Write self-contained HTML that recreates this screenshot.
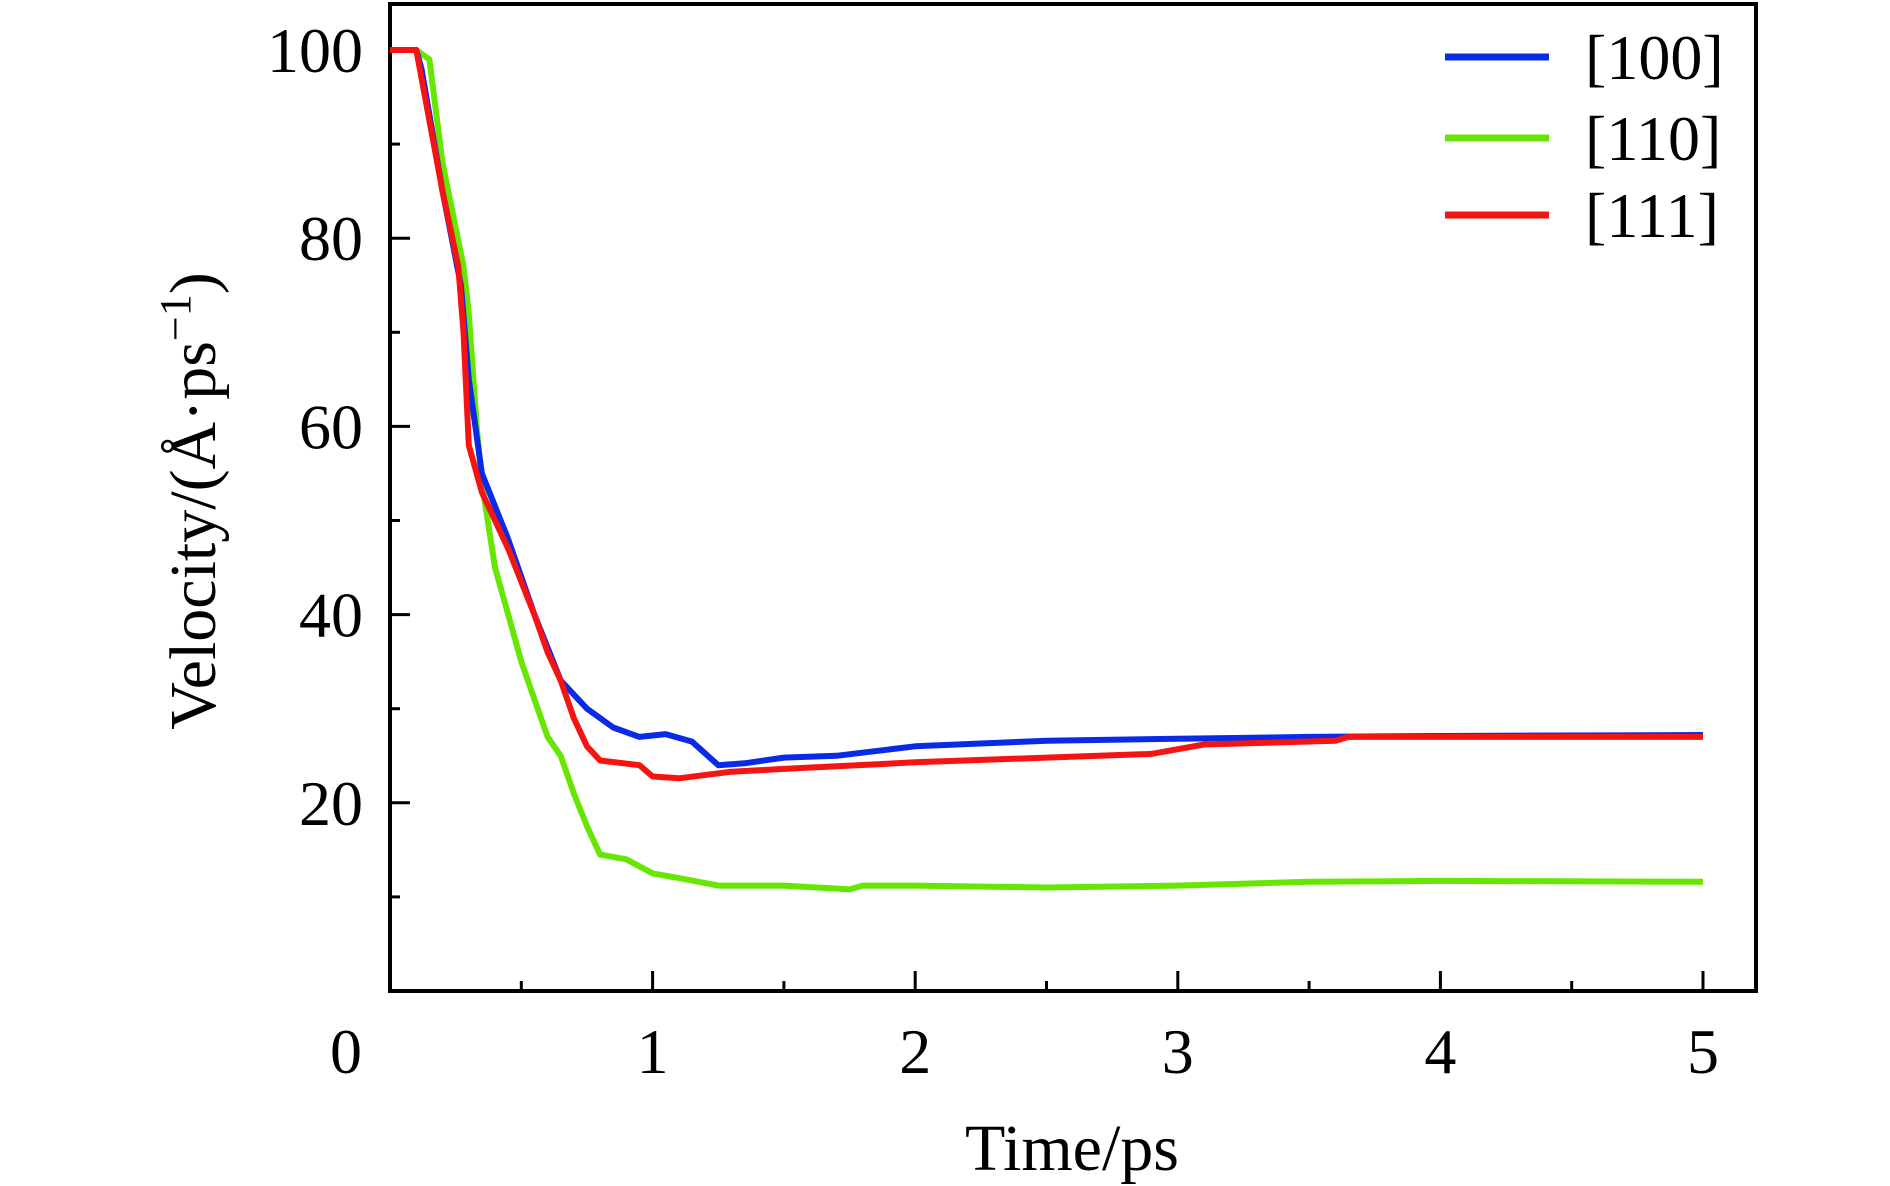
<!DOCTYPE html>
<html><head><meta charset="utf-8"><style>
html,body{margin:0;padding:0;background:#fff}
svg{display:block}
text{font-family:"Liberation Serif",serif;fill:#000}
</style></head><body>
<svg id="chart" width="1890" height="1186" viewBox="0 0 1890 1186" xmlns="http://www.w3.org/2000/svg">
<g id="marks"></g>
</svg>
<script>
const xTicks=[0,1,2,3,4,5];
const yTicks=[20,40,60,80,100];
const t100=[0,0.1,0.12,0.2,0.27,0.3,0.35,0.45,0.55,0.65,0.75,0.85,0.95,1.05,1.15,1.25,1.35,1.5,1.7,2.0,2.5,3.0,3.5,4.0,5.0];
const v100=[100,100,98,85,75,65,55,48,40,33,30,28,27,27.3,26.5,24,24.2,24.8,25,26,26.6,26.8,27,27.1,27.2];
const t111=[0,0.1,0.2,0.26,0.28,0.3,0.35,0.45,0.55,0.6,0.65,0.7,0.75,0.8,0.95,1.0,1.1,1.3,1.5,2.0,2.5,2.9,3.0,3.1,3.6,3.65,5.0];
const v111=[100,100,85,77,70,58,53,47,40,36,33,29,26,24.5,24,22.8,22.6,23.3,23.6,24.3,24.8,25.2,25.7,26.2,26.6,27,27];
const t110=[0.1,0.15,0.2,0.28,0.3,0.33,0.35,0.4,0.45,0.5,0.55,0.6,0.65,0.7,0.75,0.8,0.9,1.0,1.1,1.25,1.5,1.75,1.8,2.0,2.5,3.0,3.5,4.0,5.0];
const v110=[100,99,88,77,72,60,54,45,40,35,31,27,25,21,17.5,14.5,14,12.5,12,11.2,11.2,10.8,11.2,11.2,11,11.2,11.6,11.7,11.6];
const NS='http://www.w3.org/2000/svg';
const X0=390,X5=1703,Y0=991,Y100=50;
const sx=v=>X0+(X5-X0)*v/5;
const sy=v=>Y0-(Y0-Y100)*v/100;
const svg=document.getElementById('chart');
function mk(tag,attrs,parent){const e=document.createElementNS(NS,tag);for(const k in attrs)e.setAttribute(k,attrs[k]);(parent||svg).appendChild(e);return e;}
const frame=mk('rect',{x:390,y:4,width:1366,height:987,fill:'none',stroke:'#000','stroke-width':4});


for(let i=0;i<=10;i++){const v=i/2;const len=i%2?10:20;
const tk=mk('line',{x1:sx(v),x2:sx(v),y1:Y0,y2:Y0-len,stroke:'#000','stroke-width':3});

}
xTicks.forEach(v=>{const t=mk('text',{x:v===0?346:sx(v),y:1073,'font-size':64,'text-anchor':'middle'});t.textContent=v;

});
for(let v=10;v<=100;v+=10){const len=v%20?10:20;
const tk=mk('line',{x1:X0,x2:X0+len,y1:sy(v),y2:sy(v),stroke:'#000','stroke-width':3});

}
yTicks.forEach(v=>{const t=mk('text',{x:363,y:sy(v)+22,'font-size':64,'text-anchor':'end'});t.textContent=v;

});
const xt=mk('text',{x:1072,y:1170,'font-size':66,'text-anchor':'middle'});xt.textContent='Time/ps';


const yt=mk('text',{x:0,y:0,'font-size':66,'text-anchor':'middle',transform:'translate(215,501) rotate(-90)'});
yt.innerHTML='Velocity/(Å·ps<tspan dy="-25" font-size="44">−1</tspan><tspan dy="25">)</tspan>';


const series=[[t110,v110,'#66e600','series-110'],[t100,v100,'#0a2be6','series-100'],[t111,v111,'#f51414','series-111']];
series.forEach(s=>{const d=s[0].map((t,i)=>(i?'L':'M')+sx(t).toFixed(1)+','+sy(s[1][i]).toFixed(1)).join('');
const p=mk('path',{d:d,fill:'none',stroke:s[2],'stroke-width':6,'stroke-linejoin':'round'});

});
const leg=[['[100]','#0a2be6',57],['[110]','#66e600',138],['[111]','#f51414',215]];
leg.forEach(l=>{const ln=mk('line',{x1:1445,x2:1549,y1:l[2],y2:l[2],stroke:l[1],'stroke-width':7});


const t=mk('text',{x:1585,y:l[2]+22,'font-size':64});t.textContent=l[0];

});
</script>
</body></html>
